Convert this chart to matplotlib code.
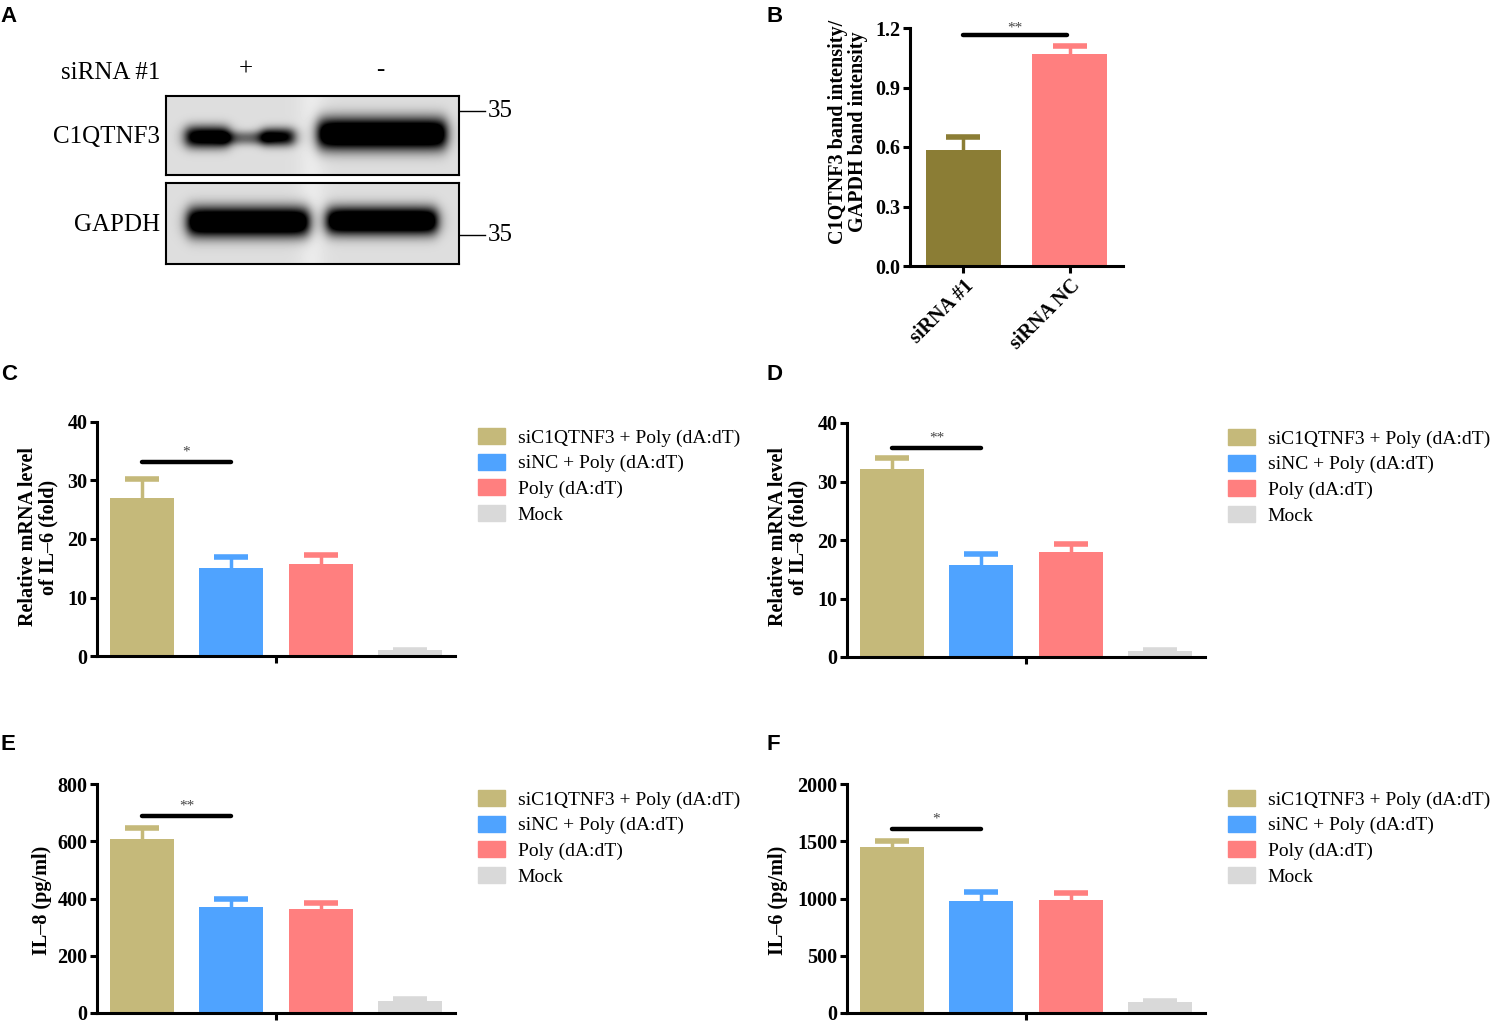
import numpy as np
import matplotlib
matplotlib.use('Agg')
import matplotlib.pyplot as plt

plt.rcParams['font.family'] = ['Liberation Serif', 'DejaVu Serif']

## data
groups = ['siC1QTNF3 + Poly (dA:dT)', 'siNC + Poly (dA:dT)', 'Poly (dA:dT)', 'Mock']
group_colors = ['#C5B97A', '#4FA3FF', '#FF7F7F', '#D9D9D9']

b_labels = ['siRNA #1', 'siRNA NC']
b_colors = ['#8B7D35', '#FF7F7F']
b_ratio = [0.587, 1.069]
b_err = [0.065, 0.040]

il6_mrna = [27.0, 15.0, 15.8, 1.0]
il6_mrna_err = [3.3, 2.0, 1.4, 0.1]
il8_mrna = [32.2, 15.7, 18.0, 1.1]
il8_mrna_err = [1.8, 1.9, 1.4, 0.1]
il8_pg = [608, 372, 362, 41]
il8_pg_err = [40, 26, 24, 7]
il6_pg = [1448, 975, 987, 92]
il6_pg_err = [50, 85, 63, 12]

## western blot bands: (x0, x1, y centre, half height, darkness)
c1q_bands = [(186, 229, 137, 11, 1.1), (222, 268, 138, 7, 0.45), (262, 294, 137, 9, 1.0),
             (318, 446, 134, 16, 1.3)]
gapdh_bands = [(188, 309, 222, 15, 1.3), (327, 437, 221, 14, 1.3)]

W, H = 1493, 1026
fig = plt.figure(figsize=(W / 100, H / 100), dpi=100)


def px_axes(left, top, right, bottom):
    return fig.add_axes([left / W, 1 - bottom / H, (right - left) / W, (bottom - top) / H])


def style_axes(ax):
    for s in ['top', 'right']:
        ax.spines[s].set_visible(False)
    for s in ['left', 'bottom']:
        ax.spines[s].set_linewidth(2.2)
    ax.tick_params(width=2.2, length=5, labelsize=14.5, pad=2)
    for lab in ax.get_yticklabels():
        lab.set_fontweight('bold')


def upper_err(ax, x, v, e, c):
    # only the upper half of the error bar, like GraphPad
    _, caps, _ = ax.errorbar(x, v, yerr=[[0], [e]], fmt='none', ecolor=c,
                             elinewidth=2.5, capsize=12, capthick=4, zorder=1)
    caps[0].set_visible(False)


def sig_bar(ax, x0, x1, y, txt, dy):
    ax.plot([x0, x1], [y, y], color='black', lw=3.2, solid_capstyle='round', clip_on=False)
    ax.text((x0 + x1) / 2, y + dy, txt, ha='center', va='bottom', fontsize=11, color='#444444')


def bar_panel(ax, vals, errs, ymax, step, sig_y, sig_txt, dy):
    x = np.arange(len(vals))
    for i in range(len(vals)):
        upper_err(ax, x[i], vals[i], errs[i], group_colors[i])
    ax.bar(x, vals, width=0.71, color=group_colors, zorder=2)
    ax.set_xlim(-0.5, 3.5)
    ax.set_ylim(0, ymax)
    ax.set_yticks(np.arange(0, ymax + step / 2, step))
    ax.set_xticks([1.5])
    ax.set_xticklabels([''])
    style_axes(ax)
    sig_bar(ax, 0, 1, sig_y, sig_txt, dy)


def blot(left, top, right, bottom, bands):
    ax = px_axes(left, top, right, bottom)
    xs = np.arange(left, right) + 0.5
    ys = np.arange(top, bottom) + 0.5
    X, Y = np.meshgrid(xs, ys)
    img = 0.87 + 0.05 * np.exp(-((X - 312) / 14.0) ** 2)
    for x0, x1, yc, hh, d in bands:
        hor = 0.5 * (np.tanh((X - x0) / 7.0) - np.tanh((X - x1) / 7.0))
        ver = np.exp(-np.abs((Y - yc) / hh) ** 2.2)
        img = img - d * hor * ver
    img = np.clip(img, 0, 1)
    ax.imshow(img, cmap='gray', vmin=0, vmax=1, extent=(left, right, bottom, top),
              aspect='auto', interpolation='bilinear')
    ax.set_xlim(left, right)
    ax.set_ylim(bottom, top)
    ax.set_xticks([])
    ax.set_yticks([])
    for s in ax.spines.values():
        s.set_linewidth(1.5)
    return ax


def ftext(x, y, s, **kw):
    fig.text(x / W, 1 - y / H, s, **kw)


## panel letters
for letter, (lx, ly) in zip('ABCDEF', [(0, 6), (767, 6), (1, 364), (767, 364), (1, 734), (767, 734)]):
    ftext(lx, ly, letter, fontsize=16, fontweight='bold', family='Liberation Sans', va='top')

## A: western blot
blot(166, 96, 459, 175, c1q_bands)
blot(166, 183, 459, 264, gapdh_bands)
ftext(111, 73, 'siRNA #1', fontsize=18, ha='center', va='center')
ftext(246, 70, '+', fontsize=18, ha='center', va='center')
ftext(380, 70, '-', fontsize=18, ha='center', va='center')
ftext(160, 137, 'C1QTNF3', fontsize=18, ha='right', va='center')
ftext(160, 225, 'GAPDH', fontsize=18, ha='right', va='center')
for my in [111, 235]:
    fig.add_artist(plt.Line2D([459 / W, 485 / W], [1 - my / H, 1 - my / H], color='black', lw=1))
    ftext(488, my, '35', fontsize=18, ha='left', va='center')

## B: band ratio
axB = px_axes(910, 28, 1123, 266)
xb = np.arange(len(b_ratio))
for i in range(len(b_ratio)):
    upper_err(axB, xb[i], b_ratio[i], b_err[i], b_colors[i])
axB.bar(xb, b_ratio, width=0.7, color=b_colors, zorder=2)
axB.set_xlim(-0.5, 1.5)
axB.set_ylim(0, 1.2)
axB.set_yticks([0.0, 0.3, 0.6, 0.9, 1.2])
axB.set_yticklabels(['0.0', '0.3', '0.6', '0.9', '1.2'])
axB.set_xticks(xb)
axB.set_xticklabels(b_labels, rotation=45, ha='right', rotation_mode='anchor',
                    fontweight='bold', fontsize=14.5)
style_axes(axB)
sig_bar(axB, 0, 0.97, 1.163, '**', 0.005)
ftext(848, 132, 'C1QTNF3 band intensity/\nGAPDH band intensity', fontsize=14.5,
      fontweight='bold', rotation=90, ha='center', va='center', linespacing=1.05)

## C-F: cytokine panels
panels = [
    ((97, 422, 455, 656), il6_mrna, il6_mrna_err, 40, 10, 33.2, '*', 0.6,
     'Relative mRNA level\nof IL\u20136 (fold)', (38, 537)),
    ((847, 423, 1205, 657), il8_mrna, il8_mrna_err, 40, 10, 35.7, '**', 0.6,
     'Relative mRNA level\nof IL\u20138 (fold)', (788, 537)),
    ((97, 784, 455, 1013), il8_pg, il8_pg_err, 800, 200, 687, '**', 12,
     'IL\u20138 (pg/ml)', (42, 900)),
    ((847, 784, 1205, 1013), il6_pg, il6_pg_err, 2000, 500, 1605, '*', 30,
     'IL\u20136 (pg/ml)', (778, 900)),
]

for box, vals, errs, ymax, step, sy, st, dy, ylab, (lx, ly) in panels:
    ax = px_axes(*box)
    bar_panel(ax, vals, errs, ymax, step, sy, st, dy)
    ftext(lx, ly, ylab, fontsize=14.5, fontweight='bold', rotation=90,
          ha='center', va='center', linespacing=1.05)
    handles = [plt.Rectangle((0, 0), 1, 1, color=c) for c in group_colors]
    ax.legend(handles, groups, loc='upper left', frameon=False,
              bbox_to_anchor=((box[0] + 381) / W, 1 - (box[1] + 6) / H),
              bbox_transform=fig.transFigure, fontsize=14, borderpad=0,
              handlelength=1.4, handleheight=0.88, handletextpad=0.65,
              labelspacing=0.36, borderaxespad=0)

fig.savefig('out.png', dpi=100)
